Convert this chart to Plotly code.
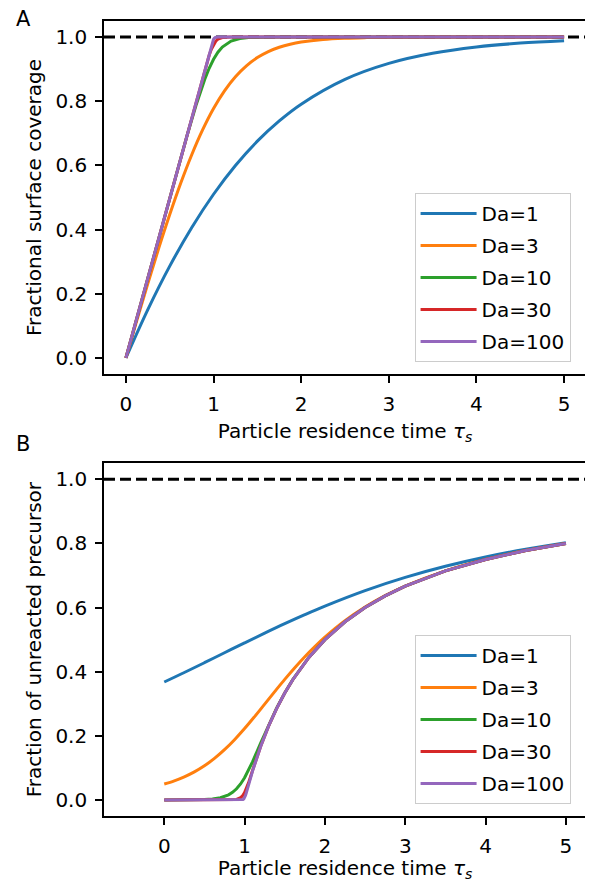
import plotly.graph_objects as go

# ---------------- data ----------------
labels = ["Da=1", "Da=3", "Da=10", "Da=30", "Da=100"]
colors = ["#1f77b4", "#ff7f0e", "#2ca02c", "#d62728", "#9467bd"]

# Panel A: fractional surface coverage
a_tau_da1 = [0, 0.25, 0.5, 0.75, 1, 1.25, 1.5, 1.75, 2, 2.5, 3, 3.5, 4, 4.5, 5]
a_cov_da1 = [0, 0.1506, 0.2860, 0.4058, 0.5101, 0.5997, 0.6755, 0.7387, 0.7909,
             0.8681, 0.9179, 0.9494, 0.9690, 0.9811, 0.9885]

a_tau_da3 = [0, 0.125, 0.25, 0.375, 0.5, 0.625, 0.75, 0.875, 1, 1.125, 1.25, 1.375,
             1.5, 1.625, 1.75, 1.875, 2, 2.25, 2.5, 2.75, 3, 3.5, 4, 4.5, 5]
a_cov_da3 = [0, 0.1175, 0.2320, 0.3422, 0.4467, 0.5441, 0.6325, 0.7106, 0.7774,
             0.8325, 0.8764, 0.9104, 0.9359, 0.9547, 0.9682, 0.9778, 0.9846, 0.9926,
             0.9965, 0.9983, 0.9992, 0.9998, 1.0, 1.0, 1.0]

a_tau_da10 = [0, 0.5, 0.6, 0.7, 0.8, 0.85, 0.9, 0.95, 1.0, 1.05, 1.1, 1.2, 1.3, 1.4,
              1.5, 1.75, 2, 2.5, 3, 3.5, 4, 4.5, 5]
a_cov_da10 = [0, 0.4993, 0.5982, 0.6951, 0.7873, 0.8299, 0.8687, 0.9026, 0.9307,
              0.9526, 0.9687, 0.9873, 0.9951, 0.9982, 0.9993, 0.9999, 1, 1, 1, 1, 1, 1, 1]

a_tau_da30 = [0, 0.8, 0.9, 0.95, 0.975, 1.0, 1.025, 1.05, 1.1, 1.2, 1.5, 2, 2.5, 3,
              3.5, 4, 4.5, 5]
a_cov_da30 = [0, 0.7999, 0.8984, 0.9433, 0.9621, 0.9769, 0.9871, 0.9933, 0.9984,
              0.9999, 1, 1, 1, 1, 1, 1, 1, 1]

a_tau_da100 = [0, 0.95, 0.98, 0.99, 1.0, 1.01, 1.02, 1.05, 1.1, 1.5, 2, 2.5, 3, 3.5,
               4, 4.5, 5]
a_cov_da100 = [0, 0.9499, 0.9787, 0.9869, 0.9931, 0.9969, 0.9987, 0.9999, 1, 1, 1,
               1, 1, 1, 1, 1, 1]

# Panel B: fraction of unreacted precursor
b_tau_da1 = [0, 0.25, 0.5, 0.75, 1, 1.25, 1.5, 1.75, 2, 2.5, 3, 3.5, 4, 4.5, 5]
b_frac_da1 = [0.3679, 0.3975, 0.4280, 0.4590, 0.4899, 0.5202, 0.5497, 0.5779, 0.6045,
              0.6528, 0.6940, 0.7287, 0.7577, 0.7820, 0.8023]

b_tau_da3 = [0, 0.125, 0.25, 0.375, 0.5, 0.625, 0.75, 0.875, 1, 1.125, 1.25, 1.375,
             1.5, 1.625, 1.75, 1.875, 2, 2.25, 2.5, 2.75, 3, 3.5, 4, 4.5, 5]
b_frac_da3 = [0.0498, 0.0597, 0.0722, 0.0876, 0.1066, 0.1295, 0.1567, 0.1879, 0.2226,
              0.2600, 0.2989, 0.3379, 0.3761, 0.4125, 0.4468, 0.4785, 0.5077, 0.5588,
              0.6014, 0.6370, 0.6669, 0.7143, 0.7500, 0.7778, 0.8000]

b_tau_da10 = [0, 0.25, 0.4, 0.5, 0.6, 0.7, 0.8, 0.85, 0.9, 0.95, 1.0, 1.05, 1.1, 1.2,
              1.3, 1.4, 1.5, 1.6, 1.8, 2, 2.25, 2.5, 2.75, 3, 3.5, 4, 4.5, 5]
b_frac_da10 = [0.0, 0.0002, 0.0006, 0.0013, 0.0030, 0.0069, 0.0159, 0.0237, 0.0348,
               0.0499, 0.0693, 0.0928, 0.1194, 0.1772, 0.2345, 0.2870, 0.3338, 0.3752,
               0.4445, 0.5000, 0.5556, 0.6000, 0.6364, 0.6667, 0.7143, 0.7500, 0.7778,
               0.8000]

b_tau_da30 = [0, 0.8, 0.9, 0.95, 0.975, 1.0, 1.025, 1.05, 1.1, 1.2, 1.3, 1.4, 1.5,
              1.6, 1.8, 2, 2.25, 2.5, 2.75, 3, 3.5, 4, 4.5, 5]
b_frac_da30 = [0.0, 0.0001, 0.0018, 0.0071, 0.0132, 0.0231, 0.0370, 0.0540, 0.0924,
               0.1667, 0.2308, 0.2857, 0.3333, 0.3750, 0.4444, 0.5000, 0.5556, 0.6000,
               0.6364, 0.6667, 0.7143, 0.7500, 0.7778, 0.8000]

b_tau_da100 = [0, 0.95, 0.98, 0.99, 1.0, 1.01, 1.02, 1.05, 1.1, 1.2, 1.3, 1.4, 1.5,
               1.6, 1.8, 2, 2.25, 2.5, 2.75, 3, 3.5, 4, 4.5, 5]
b_frac_da100 = [0.0, 0.0001, 0.0013, 0.0032, 0.0069, 0.0130, 0.0208, 0.0477, 0.0909,
                0.1667, 0.2308, 0.2857, 0.3333, 0.3750, 0.4444, 0.5000, 0.5556, 0.6000,
                0.6364, 0.6667, 0.7143, 0.7500, 0.7778, 0.8000]

reference_level = 1.0
x_ticks = [0, 1, 2, 3, 4, 5]
y_ticks = [0.0, 0.2, 0.4, 0.6, 0.8, 1.0]
y_tick_text = ["0.0", "0.2", "0.4", "0.6", "0.8", "1.0"]

panel_a = [(a_tau_da1, a_cov_da1), (a_tau_da3, a_cov_da3), (a_tau_da10, a_cov_da10),
           (a_tau_da30, a_cov_da30), (a_tau_da100, a_cov_da100)]
panel_b = [(b_tau_da1, b_frac_da1), (b_tau_da3, b_frac_da3), (b_tau_da10, b_frac_da10),
           (b_tau_da30, b_frac_da30), (b_tau_da100, b_frac_da100)]

# ---------------- figure ----------------
FONT = "DejaVu Sans"
fig = go.Figure()

smooth = [True, True, False, False, False]
for i, (xs, ys) in enumerate(panel_a):
    fig.add_trace(go.Scatter(
        x=xs, y=ys, mode="lines", name=labels[i],
        line=dict(color=colors[i], width=3, shape="spline" if smooth[i] else "linear"),
        xaxis="x", yaxis="y", legend="legend", legendgroup=f"a{i}"))
for i, (xs, ys) in enumerate(panel_b):
    fig.add_trace(go.Scatter(
        x=xs, y=ys, mode="lines", name=labels[i],
        line=dict(color=colors[i], width=3, shape="spline" if smooth[i] else "linear"),
        xaxis="x2", yaxis="y2", legend="legend2", legendgroup=f"b{i}"))

for xr, yr in [("x domain", "y"), ("x2 domain", "y2")]:
    fig.add_shape(type="line", xref=xr, x0=0, x1=1, yref=yr,
                  y0=reference_level, y1=reference_level,
                  line=dict(color="black", width=3, dash="11px,5px"), layer="below")

axis_common = dict(
    showline=True, linecolor="black", linewidth=1.6, mirror=True,
    ticks="outside", ticklen=7, tickwidth=1.6, tickcolor="black",
    showgrid=False, zeroline=False, automargin=False, ticklabelstandoff=4,
    tickfont=dict(family=FONT, size=20, color="black"),
)

xtitle = "Particle residence time <i>τ<sub>s</sub></i>"
legend_common = dict(
    xanchor="right", yanchor="bottom",
    bgcolor="rgba(255,255,255,0.8)", bordercolor="#cccccc", borderwidth=1,
    font=dict(family=FONT, size=20), tracegroupgap=3, itemwidth=56,
)
fig.update_layout(
    width=585, height=874,
    margin=dict(l=96, r=7, t=13, b=66),
    paper_bgcolor="white", plot_bgcolor="white",
    font=dict(family=FONT, size=20, color="black"),
    xaxis=dict(axis_common, domain=[0, 1], anchor="y", range=[-0.25, 5.25],
               tickvals=x_ticks,
               title=dict(text=xtitle, font=dict(family=FONT, size=20), standoff=9)),
    yaxis=dict(axis_common, domain=[0.556, 1], anchor="x", range=[-0.05, 1.05],
               tickvals=y_ticks, ticktext=y_tick_text,
               title=dict(text="Fractional surface coverage",
                          font=dict(family=FONT, size=20), standoff=8)),
    xaxis2=dict(axis_common, domain=[0, 1], anchor="y2", range=[-0.75, 5.25],
                tickvals=x_ticks,
                title=dict(text=xtitle, font=dict(family=FONT, size=20), standoff=5)),
    yaxis2=dict(axis_common, domain=[0, 0.4437], anchor="x2", range=[-0.05, 1.05],
                tickvals=y_ticks, ticktext=y_tick_text,
                title=dict(text="Fraction of unreacted precursor",
                           font=dict(family=FONT, size=20), standoff=8)),
    legend=dict(legend_common, x=0.968, y=0.571),
    legend2=dict(legend_common, x=0.968, y=0.0151),
    showlegend=True,
)

fig.add_annotation(text="A", xref="paper", yref="paper", x=-0.168, y=1.002,
                   xanchor="center", yanchor="middle", showarrow=False,
                   font=dict(family=FONT, size=21, color="black"))
fig.add_annotation(text="B", xref="paper", yref="paper", x=-0.168, y=0.4677,
                   xanchor="center", yanchor="middle", showarrow=False,
                   font=dict(family=FONT, size=21, color="black"))

fig.write_html("out.html")
